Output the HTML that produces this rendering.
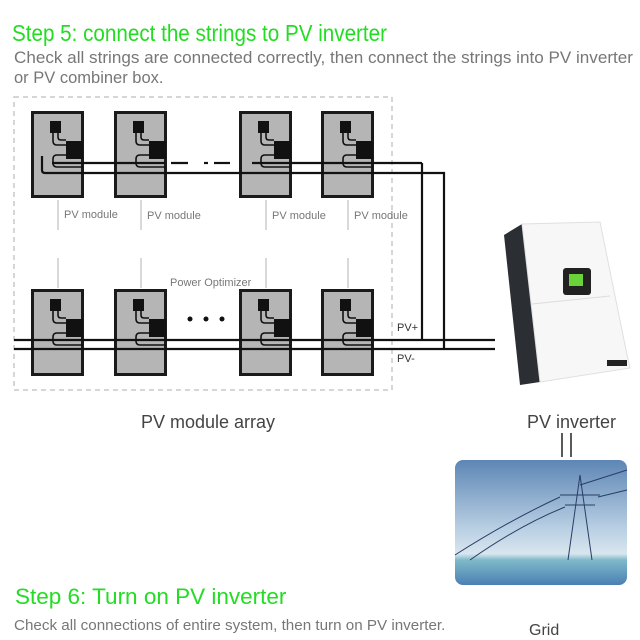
<!DOCTYPE html>
<html><head><meta charset="utf-8"><style>
body{margin:0;background:#fff}
svg{display:block;font-family:"Liberation Sans",sans-serif}
</style></head><body>
<svg width="640" height="640" viewBox="0 0 640 640">
<defs>
<g id="pm">
<rect x="1.5" y="1.5" width="50" height="84" fill="#b5b5b5" stroke="#1a1a1a" stroke-width="3"/>
<rect x="19" y="10" width="11" height="12" fill="#111"/>
<rect x="35" y="30" width="17" height="18" fill="#111"/>
<path d="M22 22 v8 q0 4 4 4 h9 M27 22 v4 q0 3 3 3 h5" fill="none" stroke="#111" stroke-width="1.6"/>
<path d="M35 44 h-9 q-4 0 -4 4 v4 q0 4 4 4 h26" fill="none" stroke="#111" stroke-width="1.6"/>
</g>
<linearGradient id="sky" x1="0" y1="0" x2="0" y2="1">
<stop offset="0" stop-color="#5d86b5"/><stop offset="0.55" stop-color="#b9cfe3"/><stop offset="0.75" stop-color="#d8e6ee"/><stop offset="0.8" stop-color="#7fb9c9"/><stop offset="1" stop-color="#4a7fb3"/>
</linearGradient>
</defs>
<text x="12" y="41" font-size="23" fill="#22dd22" textLength="375" lengthAdjust="spacingAndGlyphs">Step 5: connect the strings to PV inverter</text>
<text x="14" y="63" font-size="16.5" fill="#777" textLength="619" lengthAdjust="spacingAndGlyphs">Check all strings are connected correctly, then connect the strings into PV inverter</text>
<text x="14" y="83" font-size="16.5" fill="#777">or PV combiner box.</text>
<rect x="14" y="97" width="378" height="293" fill="none" stroke="#c8c8c8" stroke-width="1.5" stroke-dasharray="5,4"/>
<g stroke="#ccc" stroke-width="1.5">
<line x1="58" y1="200" x2="58" y2="230"/><line x1="141" y1="200" x2="141" y2="230"/><line x1="266" y1="200" x2="266" y2="230"/><line x1="348" y1="200" x2="348" y2="230"/>
<line x1="58" y1="258" x2="58" y2="288"/><line x1="141" y1="258" x2="141" y2="288"/><line x1="266" y1="258" x2="266" y2="288"/><line x1="348" y1="258" x2="348" y2="288"/>
</g>
<g font-size="11" fill="#777">
<text x="64" y="218">PV module</text><text x="147" y="219">PV module</text><text x="272" y="219">PV module</text><text x="354" y="219">PV module</text>
<text x="170" y="286">Power Optimizer</text>
</g>
<use href="#pm" x="31" y="111"/><use href="#pm" x="114" y="111"/><use href="#pm" x="239" y="111"/><use href="#pm" x="321" y="111"/>
<use href="#pm" x="31" y="289"/><use href="#pm" x="114" y="289"/><use href="#pm" x="239" y="289"/><use href="#pm" x="321" y="289"/>
<g stroke="#111" stroke-width="2.2" fill="none">
<line x1="52" y1="163" x2="165" y2="163"/>
<path d="M42 156 v14 q0 3 3 3 H444 V349"/>
<line x1="252" y1="163" x2="422" y2="163"/><line x1="422" y1="163" x2="422" y2="340"/>
<line x1="14" y1="340" x2="495" y2="340"/><line x1="14" y1="349" x2="495" y2="349"/>
<line x1="171" y1="163" x2="188" y2="163"/><line x1="204" y1="163" x2="208" y2="163"/><line x1="214" y1="163" x2="230" y2="163"/>
</g>
<g fill="#111"><circle cx="190" cy="319" r="2.5"/><circle cx="206" cy="319" r="2.5"/><circle cx="222" cy="319" r="2.5"/></g>
<text x="397" y="331" font-size="11" fill="#333">PV+</text>
<text x="397" y="362" font-size="11" fill="#333">PV-</text>
<polygon points="504,235 522,224 540,382 520,385" fill="#2b2f33"/>
<polygon points="522,224 600,222 626,350 630,368 540,382" fill="#f7f7f7" stroke="#e0e0e0"/>
<line x1="532" y1="304" x2="610" y2="296" stroke="#ddd"/>
<rect x="563" y="268" width="28" height="27" rx="3" fill="#222"/>
<rect x="569" y="274" width="14" height="12" fill="#6ad33a"/>
<rect x="607" y="360" width="20" height="6" fill="#222"/>
<text x="141" y="428" font-size="18" fill="#444">PV module array</text>
<text x="527" y="428" font-size="18" fill="#444">PV inverter</text>
<g stroke="#222" stroke-width="1.5"><line x1="562" y1="433" x2="562" y2="457"/><line x1="571" y1="433" x2="571" y2="457"/></g>
<rect x="455" y="460" width="172" height="125" rx="8" fill="url(#sky)"/>
<g stroke="#2a3d66" stroke-width="1" fill="none">
<path d="M580 475 L568 560 M580 475 L592 560 M560 495 h40 M565 505 h30"/>
<path d="M455 555 Q510 520 560 497 M470 560 Q520 525 565 507 M580 485 L627 470 M598 497 L627 490"/>
</g>
<text x="15" y="604" font-size="22.5" fill="#22dd22">Step 6: Turn on PV inverter</text>
<text x="14" y="630" font-size="15.2" fill="#777">Check all connections of entire system, then turn on PV inverter.</text>
<text x="529" y="635" font-size="16" fill="#444">Grid</text>
</svg>
</body></html>
